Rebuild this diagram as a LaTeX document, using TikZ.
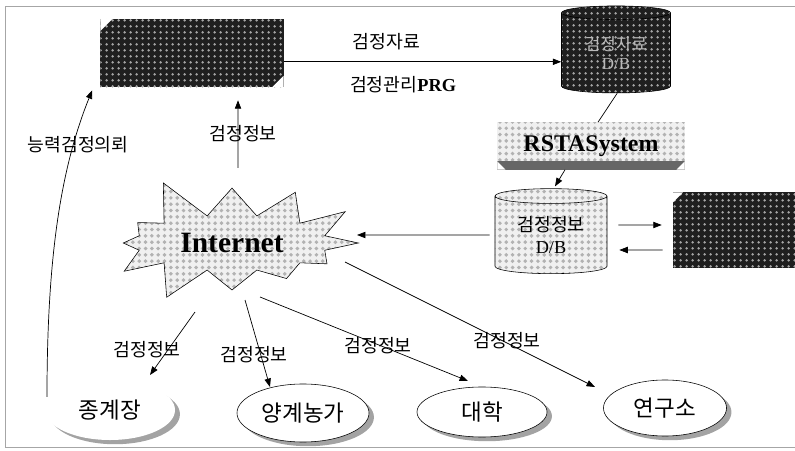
\documentclass[tikz,border=0pt]{standalone}
\usepackage{fontspec}
\setmainfont{Liberation Serif}
\newfontfamily\kr{Noto Sans CJK KR}
\usetikzlibrary{arrows.meta,calc,shadows,patterns.meta}
\usetikzlibrary{shapes.geometric,shapes.symbols}

% corner cuts for the slab boxes
\newcommand{\cutNW}[1]{\fill[white] (path picture bounding box.north west) -- ++(#1,0) -- ++(-#1,-#1) -- cycle;}
\newcommand{\cutSE}[1]{\fill[white] (path picture bounding box.south east) -- ++(-#1,0) -- ++(#1,#1) -- cycle;}
\newcommand{\cutSW}[1]{\fill[white] (path picture bounding box.south west) -- ++(#1,0) -- ++(-#1,#1) -- cycle;}

\tikzset{
  arr/.style={-{Triangle[length=6pt,width=4.5pt]}, line width=0.5pt},
  darkdots/.style={preaction={fill=black!88}, pattern={Dots[distance=4pt,radius=1pt]}, pattern color=gray!70},
  lightdots/.style={preaction={fill=gray!12}, pattern={Dots[distance=4.5pt,radius=1.4pt]}, pattern color=gray!60},
  slab/.style={rectangle, inner sep=0pt},
  dbase/.style={cylinder, shape border rotate=90, aspect=0.22, draw=black, inner sep=0pt, align=center},
  site/.style={ellipse, draw=black, fill=white, inner sep=0pt, font=\kr\fontsize{16}{18}\selectfont,
    drop shadow={shadow xshift=3.5pt, shadow yshift=-3pt, fill=black!72}},
  lbl/.style={font=\kr\fontsize{13}{15}\selectfont, inner sep=1pt}
}

\begin{document}
\begin{tikzpicture}[x=0.025cm, y=-0.025cm]
  \useasboundingbox (0,0) rectangle (795,451);
  % frame of the scan
  \draw[gray!70, line width=0.6pt] (795,6) -- (5,6) -- (5,447) -- (795,447);

  % sources and data bases
  \node[slab, darkdots, minimum width=4.575cm, minimum height=1.7cm,
        path picture={\cutNW{0.3cm}\cutSE{0.28cm}}] (top) at (192,53) {};
  \node[dbase, darkdots, minimum width=2.725cm, minimum height=2.175cm, text=gray!55,
        font=\fontsize{12}{14}\selectfont] (cyl1) at (616,53) {{\kr 검정자료}\\D/B};
  \node[slab, lightdots, minimum width=4.675cm, minimum height=1.175cm, font=\bfseries\fontsize{17}{19}\selectfont,
        path picture={\fill[black!60] ([yshift=6pt]path picture bounding box.south west) rectangle (path picture bounding box.south east);
                      \cutSW{0.2cm}\cutSE{0.2cm}}]
        (rsta) at (591,146) {RSTASystem};
  \node[dbase, lightdots, minimum width=2.8cm, minimum height=2.125cm,
        font=\fontsize{13}{16}\selectfont] (db2) at (551,235) {{\kr 검정정보}\\D/B};
  \node[slab, darkdots, minimum width=3.05cm, minimum height=1.875cm,
        path picture={\cutNW{0.25cm}}] (rbox) at (734,230) {};

  % internet
  \node[starburst, starburst points=12, starburst point height=1.1cm, random starburst=5,
        draw=black, lightdots, minimum width=7cm, minimum height=3.6cm,
        font=\bfseries\fontsize{21}{23}\selectfont] (inet) at (232,243) {Internet};

  % users
  \node[site, draw=none, minimum width=3.25cm, minimum height=1.5cm] (jong) at (110,410) {종계장};
  \node[site, minimum width=3.3cm, minimum height=1.45cm] (yang) at (303,413) {양계농가};
  \node[site, minimum width=3.25cm, minimum height=1.25cm] (univ) at (482,412) {대학};
  \node[site, minimum width=3.075cm, minimum height=1.4cm] (lab) at (665,408) {연구소};

  % connectors
  \draw[arr] ([yshift=-0.22cm]top.east) -- ([yshift=-0.22cm]top.east -| cyl1.west)
    node[lbl, pos=0.37, yshift=0.5cm] (l1) {검정자료}
    node[lbl, pos=0.43, yshift=-0.575cm] (l2) {검정관리{\rmfamily\bfseries PRG}};
  \draw[line width=0.5pt] ([xshift=0.03cm]cyl1.south) -- ([xshift=0.175cm]rsta.north);
  \draw[arr] ([xshift=-0.65cm]rsta.south) -- ([shift={(0.1cm,0.05cm)}]db2.north);
  \draw[arr] ([shift={(0.275cm,0.25cm)}]db2.east) -- ([shift={(-0.275cm,0.125cm)}]rbox.west);
  \draw[arr] ([shift={(-0.25cm,-0.5cm)}]rbox.west) -- ([shift={(0.3cm,-0.375cm)}]db2.east);
  \draw[arr] ([xshift=-0.125cm]db2.west) -- ($(inet.center)+(3.125cm,0.2cm)$);
  \draw[arr] ($(inet.center)+(0.15cm,1.875cm)$) -- ([shift={(1.15cm,-0.325cm)}]top.south)
    node[lbl, midway, xshift=0.125cm] (l3) {검정정보};
  \draw[arr] ([shift={(-1.575cm,0.325cm)}]jong.center) .. controls (47,260) and (60,170) .. ([shift={(-0.2cm,-0.075cm)}]top.south west);
  \node[lbl] (l4) at (78,145) {능력검정의뢰};

  \draw[arr] ($(inet.center)+(-0.925cm,-1.725cm)$) -- ([shift={(1cm,0.875cm)}]jong.center);
  \draw[arr] ($(inet.center)+(0.325cm,-1.425cm)$) -- ([shift={(-0.825cm,0.65cm)}]yang.center);
  \draw[arr] ($(inet.center)+(0.7cm,-1.35cm)$) -- ([shift={(-0.35cm,0.775cm)}]univ.center);
  \draw[arr] ($(inet.center)+(2.825cm,-0.475cm)$) -- ([shift={(-1.75cm,0.525cm)}]lab.center);
  \node[lbl] (l5) at (147,350) {검정정보};
  \node[lbl] (l6) at (254,355) {검정정보};
  \node[lbl] (l7) at (378,346) {검정정보};
  \node[lbl] (l8) at (507,341) {검정정보};
\end{tikzpicture}
\end{document}
